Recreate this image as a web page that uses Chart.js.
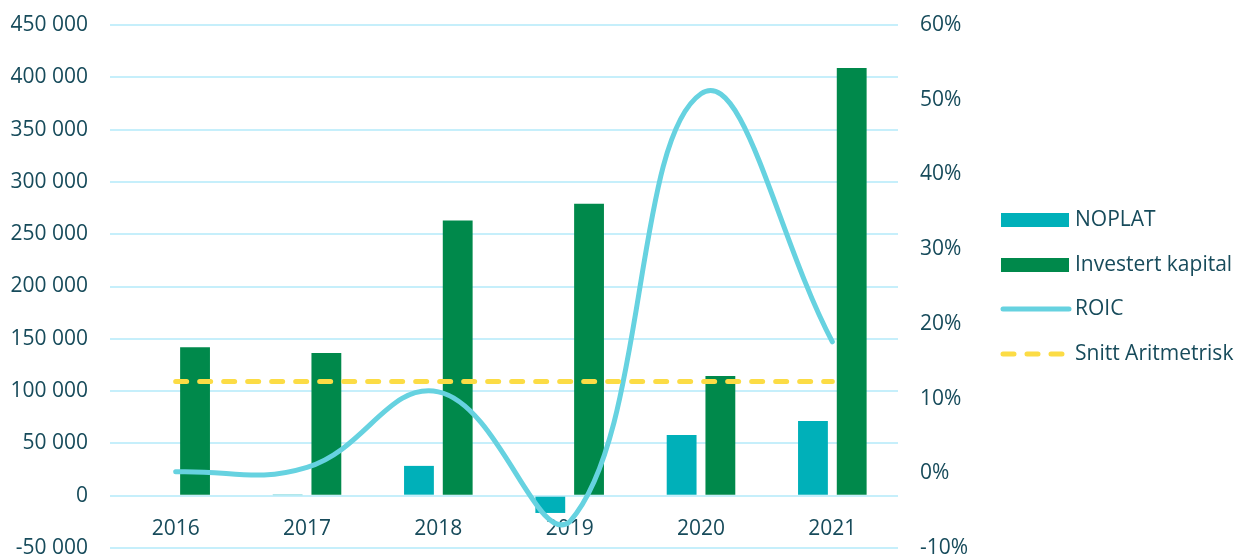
<!DOCTYPE html>
<html>
<head>
<meta charset="utf-8">
<script src="https://cdn.jsdelivr.net/npm/chart.js@4.4.1/dist/chart.umd.min.js"></script>
<style>
  html, body { margin: 0; padding: 0; background: #fff; }
  #wrap { width: 1238px; height: 559px; }
</style>
</head>
<body>
<div id="wrap"><canvas id="chart-canvas" width="1238" height="559"></canvas></div>
<script>
'use strict';

const years = ['2016', '2017', '2018', '2019', '2020', '2021'];
const noplat = [0, 600, 28500, -16500, 58000, 71500];
const investertKapital = [142000, 136500, 263000, 279000, 114500, 409000];
const roic = [0.2, 0.8, 10.9, -6.5, 50.8, 17.6];
const snitt = [12.3, 12.3, 12.3, 12.3, 12.3, 12.3];

const leftTicks = [-50000, 0, 50000, 100000, 150000, 200000, 250000, 300000, 350000, 400000, 450000];
const rightTicks = [-10, 0, 10, 20, 30, 40, 50, 60];

const textColor = '#174b5b';
const gridColor = '#c6effb';
const fontFamily = '"Open Sans", "Noto Sans", sans-serif';
const fontSize = 21;

const colors = {
    noplat: '#00b0b9',
    investert: '#00894b',
    roic: '#66d2e0',
    snitt: '#fcdc45'
};

function spaceThousands(v) {
    return String(v).replace(/\B(?=(\d{3})+(?!\d))/g, ' ');
}

// legend drawn on the right side of the canvas
const sideLegend = {
    id: 'sideLegend',
    afterDraw(chart) {
        const ctx = chart.ctx;
        const x0 = 1001;
        const items = [
            { label: 'NOPLAT', type: 'box', color: colors.noplat, y: 220 },
            { label: 'Investert kapital', type: 'box', color: colors.investert, y: 265 },
            { label: 'ROIC', type: 'line', color: colors.roic, y: 309 },
            { label: 'Snitt Aritmetrisk', type: 'dash', color: colors.snitt, y: 354 }
        ];
        ctx.save();
        items.forEach((item) => {
            if (item.type === 'box') {
                ctx.fillStyle = item.color;
                ctx.fillRect(x0, item.y - 7, 68, 14);
            } else {
                ctx.strokeStyle = item.color;
                ctx.lineWidth = 5;
                ctx.lineCap = 'round';
                ctx.setLineDash(item.type === 'dash' ? [11, 13] : []);
                ctx.beginPath();
                ctx.moveTo(x0 + 2, item.y);
                ctx.lineTo(x0 + 68, item.y);
                ctx.stroke();
                ctx.setLineDash([]);
            }
            ctx.fillStyle = textColor;
            ctx.font = fontSize + 'px ' + fontFamily;
            ctx.textBaseline = 'middle';
            ctx.textAlign = 'left';
            ctx.fillText(item.label, x0 + 74, item.y);
        });
        ctx.restore();
    }
};

const ctx = document.getElementById('chart-canvas').getContext('2d');
const chart = new Chart(ctx, {
    data: {
        labels: years,
        datasets: [
            {
                type: 'line',
                label: 'ROIC',
                data: roic,
                yAxisID: 'y1',
                borderColor: colors.roic,
                borderWidth: 5,
                borderCapStyle: 'round',
                tension: 0.42,
                pointRadius: 0,
                order: 1
            },
            {
                type: 'line',
                label: 'Snitt Aritmetrisk',
                data: snitt,
                yAxisID: 'y1',
                borderColor: colors.snitt,
                borderWidth: 5,
                borderDash: [11, 13],
                borderCapStyle: 'round',
                pointRadius: 0,
                order: 0
            },
            {
                type: 'bar',
                label: 'NOPLAT',
                data: noplat,
                yAxisID: 'y',
                backgroundColor: colors.noplat,
                barPercentage: 0.77,
                categoryPercentage: 0.59,
                order: 2
            },
            {
                type: 'bar',
                label: 'Investert kapital',
                data: investertKapital,
                yAxisID: 'y',
                backgroundColor: colors.investert,
                barPercentage: 0.77,
                categoryPercentage: 0.59,
                order: 3
            }
        ]
    },
    options: {
        responsive: false,
        animation: false,
        layout: {
            padding: { top: 25, bottom: 11, left: 0, right: 240 }
        },
        plugins: {
            legend: { display: false },
            tooltip: { enabled: false }
        },
        scales: {
            x: {
                position: { y: 0 },
                grid: { display: false },
                border: { display: false },
                ticks: {
                    color: textColor,
                    font: { family: fontFamily, size: fontSize },
                    padding: 13
                }
            },
            y: {
                position: 'left',
                min: -50000,
                max: 450000,
                afterBuildTicks(scale) {
                    scale.ticks = leftTicks.map((v) => ({ value: v }));
                },
                afterFit(scale) {
                    scale.width = 110;
                    scale.paddingTop = 0;
                    scale.paddingBottom = 0;
                },
                grid: { color: gridColor, lineWidth: 2, drawTicks: false },
                border: { display: false },
                ticks: {
                    color: textColor,
                    font: { family: fontFamily, size: fontSize },
                    padding: 22,
                    callback: (v) => spaceThousands(v)
                }
            },
            y1: {
                position: 'right',
                min: -10,
                max: 60,
                afterBuildTicks(scale) {
                    scale.ticks = rightTicks.map((v) => ({ value: v }));
                },
                afterFit(scale) {
                    scale.width = 100;
                    scale.paddingTop = 0;
                    scale.paddingBottom = 0;
                },
                grid: { display: false, drawTicks: false },
                border: { display: false },
                ticks: {
                    color: textColor,
                    font: { family: fontFamily, size: fontSize },
                    padding: 22,
                    callback: (v) => v + '%'
                }
            }
        }
    },
    plugins: [sideLegend]
});
</script>
</body>
</html>
